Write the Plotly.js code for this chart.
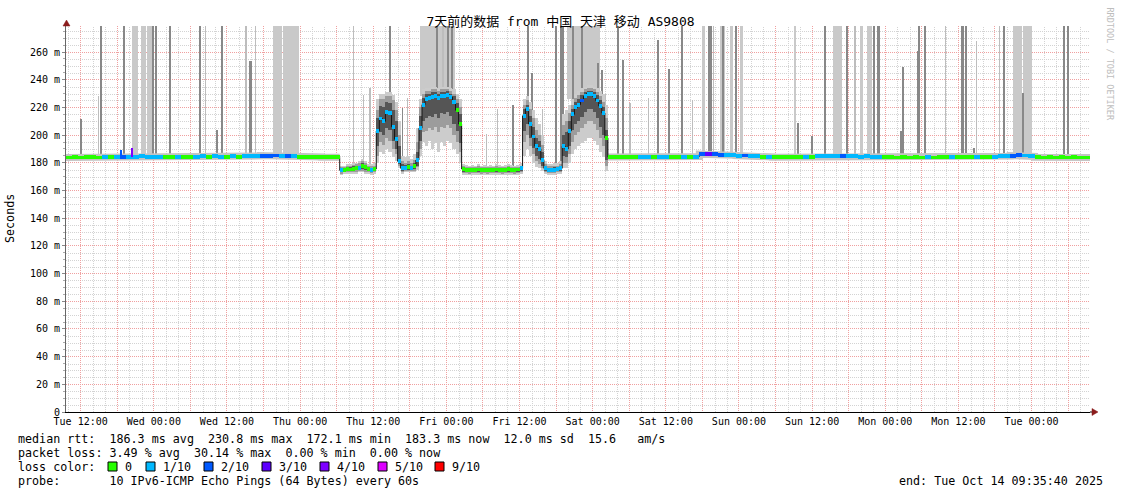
<!DOCTYPE html>
<html>
<head>
<meta charset="utf-8">
<script src="https://cdn.plot.ly/plotly-3.0.1.min.js"></script>
<style>html,body{margin:0;padding:0;background:#fff;overflow:hidden}#chart{width:1121px;height:494px}</style>
</head>
<body>
<div id="chart"></div>
<script>
// ---------------- data (time = hours since Tue 2025-10-07 00:00) ----------------
const viewStart = 9.5944;   // Tue Oct 7 09:35:40
const viewEnd = 177.5944;   // Tue Oct 14 09:35:40
const xTickHours = [12,24,36,48,60,72,84,96,108,120,132,144,156,168];
const xTickLabels = ['Tue 12:00','Wed 00:00','Wed 12:00','Thu 00:00','Thu 12:00','Fri 00:00','Fri 12:00','Sat 00:00','Sat 12:00','Sun 00:00','Sun 12:00','Mon 00:00','Mon 12:00','Tue 00:00'];
const yTickValues = [0,20,40,60,80,100,120,140,160,180,200,220,240,260];
const yTickLabels = ['0','20 m','40 m','60 m','80 m','100 m','120 m','140 m','160 m','180 m','200 m','220 m','240 m','260 m'];

const lossLevels = [0,1,2,3,4,5,9];
const lossLabels = ['0','1/10','2/10','3/10','4/10','5/10','9/10'];
const lossColors = ['#26ff00','#00b8ff','#0059ff','#5e00ff','#7e00ff','#dd00ff','#ff0000'];

// Section A: hourly medians (ms), h = 10 .. 54
const startA = 10, stepA = 1;
const medA = [183.8,184,183.8,184,184,183.8,184,184,184.2,184.3,
              184.3,184.5,184.6,184.5,184.4,184.5,184.3,184.2,184.4,184.2,
              184.2,184.5,184.6,184.4,184.6,184.5,184.4,184.6,184.5,184.8,
              184.8,185.0,185.2,185.2,185.3,185.2,185.0,184.6,184.3,184.2,
              184.1,184.2,184.0,184.1,184.0];
const lossA = [0,0,0,0,0,0,1,0,1,2,
               1,1,1,1,1,1,0,0,1,0,
               0,1,1,0,1,1,0,1,0,1,
               1,1,2,2,2,1,2,1,0,0,
               0,0,0,0,0];

// Section B: half-hourly medians, h = 54.75 .. 98.25
const startB = 54.75, stepB = 0.5;
const medB = [174.5,175,175.5,175.2,175.6,176,176.5,177.5,176.8,175.6,175,175.5,
              203,212,210,217,216,206,197,181,
              176,176.5,177,176,177.5,182,
              205,222,226,227,227.5,228,227,228.5,228,229,227.5,224,218,208,
              175.5,175,174.5,175,174.8,175.2,174.6,175,174.5,175,174.8,175.2,175,174.7,175,175.3,175,174.8,175.2,176,
              214,219,208,199,192,190,182,
              176,175,174.5,175,175.5,176,
              192,190,203,215,220,222,225,228,230,229.5,228,225,221,216,198];
const lossB = [1,0,0,0,0,0,1,0,0,0,1,0,
               1,1,1,1,1,1,1,1,
               1,1,0,1,0,1,
               1,1,1,1,1,1,1,1,1,1,1,1,0,0,
               0,0,0,0,0,0,0,0,0,0,0,0,0,0,0,0,0,0,0,1,
               1,1,1,1,1,1,1,
               1,1,1,1,1,1,
               1,1,1,1,1,1,2,1,1,1,1,1,1,1,0];
// smoke (ping spread) for section B: outer / middle / inner bands
const outerLoB = [171,172,172,172,172,172,173,173,172,172,171,172,
                  180,188,186,190,188,184,181,176,
                  172,173,173,173,173,175,
                  185,195,192,196,190,194,188,195,192,196,194,190,186,180,
                  171,171.5,171,171.5,171,171.5,171,171.5,171,171.5,171,171.5,171,171,171.5,171.5,171,171,171.5,172,
                  185,190,185,180,177,176,174,
                  172,171.5,171,171.5,172,172,
                  176,176,180,186,190,192,194,196,198,198,196,193,188,184,174];
const outerHiB = [178,178,179,179,180,180,181,183,181,179,179,180,
                  226,230,230,231,231,229,224,210,
                  185,184,185,183,186,205,
                  226,233,234,234,235,235,234,235,235,235,234,233,230,226,
                  179,178.5,178,178.5,178,179,178,178.5,178,178.5,178,179,178.5,178,178.5,179,178.5,178,178.5,180,
                  226,228,224,218,212,208,200,
                  181,179,179,180,180,181,
                  215,218,222,226,230,232,234,235,236,236,235,234,232,230,222];
const midLoB = [172,173,173,173,173,173.5,174,174,173.5,173,172.5,173,
                185,195,193,198,196,190,186,178,
                173,174,174,174,174,177,
                190,202,203,205,204,206,202,206,205,207,205,200,195,188,
                172.5,172.5,172,172.5,172.5,172.5,172,172.5,172,172.5,172.5,172.5,172.5,172,172.5,172.5,172.5,172,172.5,173,
                195,200,192,186,181,179,176,
                173,172.5,172.5,172.5,173,173,
                180,180,186,195,200,202,205,208,210,210,208,204,198,192,178];
const midHiB = [177,177,178,178,178.5,179,180,181,179.5,178,177.5,178,
                218,226,226,228,228,225,218,200,
                181,180,181,180,182,195,
                220,230,232,232,233,233,232,233,233,233,232,230,226,220,
                177.5,177,177,177,177,177.5,177,177,177,177,177,177.5,177,177,177,177.5,177,177,177,178,
                222,225,219,212,204,200,193,
                179,177.5,177.5,178,178,179,
                207,210,216,222,227,229,231,233,234,234,233,231,228,224,212];
const innerLoB = [173,174,174,174,174,174.5,175,175.5,174.5,174,173.5,174,
                  192,202,200,205,204,196,190,179,
                  174,175,175,175,175.5,178,
                  196,210,212,214,213,215,212,216,215,217,214,208,203,194,
                  173.5,173.5,173,173.5,173.5,173.5,173,173.5,173,173.5,173.5,173.5,173.5,173,173.5,173.5,173.5,173,173.5,174,
                  203,208,198,191,185,183,178,
                  174,173.5,173.5,173.5,174,174,
                  185,184,192,204,208,210,213,217,219,219,217,212,206,200,182];
const innerHiB = [176,176.5,177,177,177.5,177.5,178,179.5,178.5,177,176.5,177,
                  212,221,220,224,223,218,210,192,
                  179,178.5,179,178,180,188,
                  214,227,230,230,231,231,230,231,231,232,230,228,223,215,
                  176.5,176,176,176,176,176.5,176,176,176,176,176,176.5,176,176,176,176.5,176,176,176,177,
                  219,222,214,206,198,196,188,
                  177.5,176.5,176.5,177,177,177.5,
                  200,202,210,219,224,226,229,231,232,232,231,229,225,220,204];

// Section C: hourly medians, h = 99 .. 178
const startC = 99, stepC = 1;
const medC = [184.2,184,184.2,184,184.1,184.3,184.4,184.2,184.5,184.4,
              184.2,184.1,184.3,184.2,184.5,186.2,186.5,186.3,185.8,185.5,
              185.4,185.2,185.3,185.0,184.8,184.3,184.2,184,184.1,184,
              184.2,184.1,184.4,184.2,184.6,184.8,184.9,184.7,184.8,184.6,
              184.8,184.5,184.6,184.4,184.5,184.3,184,183.8,183.9,183.8,
              184,183.8,184,183.8,183.9,184,184.2,184,183.9,184,
              184.1,183.9,184,184.3,184.6,184.8,185.2,185.5,185.3,184.6,
              184,183.8,183.9,183.8,183.9,183.8,183.9,183.8,183.8,183.8];
const lossC = [0,0,0,0,0,1,1,0,1,1,
               0,0,1,0,1,2,3,2,2,1,
               1,1,2,1,1,0,1,0,0,0,
               0,0,1,0,1,1,1,1,2,1,
               1,1,1,1,1,0,0,0,0,0,
               0,0,1,0,0,0,1,0,0,0,
               1,0,0,1,1,1,2,2,1,1,
               0,0,0,0,0,0,0,0,0,0];

// short loss blips
const blipH = [18.6, 20.4];
const blipTop = [189.5, 190.5];
const blipLoss = [2, 4];

// single high pings (spikes) and runs of high pings
const lightSpikeH = [14.89,32.45,39.01,39.24,40.65,56.73,58.37,59.47,65.62,71.45,74.1,78.62,80.36,87.8,98.03,102.13,105.13,112.35,115.8,139.04,153.93,159.01,162.72];
const lightSpikeTop = [228,280,280,280,280,280,229,234,227,280,213,201,219,219,230,223,227,225,280,280,280,268,280];
const darkSpikeH = [12.01,15.34,19.11,23.92,24.31,26.66,31.5,31.65,34.3,35.14,39.7,39.9,62.75,64.8,70.41,72.27,72.87,82.98,85.34,86.0,89.99,90.86,91.19,92.83,94.26,96.88,97.48,100.21,101.03,106.77,108.58,110.6,115.1,115.4,117.34,119.45,129.74,131.94,134.12,137.68,142.2,142.75,143.0,146.54,146.97,149.4,149.59,150.5,156.5,156.7,157.26,158.62,163.5,166.66,173.34,174.04];
const darkSpikeTop = [211.6,280,280,280,280,280,280,280,203.6,280,253.7,253.7,280,219.5,280,280,280,222,280,245,280,280,280,280,280,252,247,280,254,268.7,248,280,280,280,280,280,208.7,199,280,280,280,280,280,203,249,261,280,280,280,280,280,190.6,280,230.6,280,280];
const lightBlockStart = [20.42,21.9,22.93,43.61,45.25,67.67,91.74,113.89,116.9,118.53,120.18,129.09,135.48,139.86,140.96,165.02,166.66];
const lightBlockEnd = [21.46,22.72,23.66,44.98,47.82,73.41,97.21,114.45,117.72,119.08,120.72,129.37,136.86,140.31,141.78,166.4,168.04];

const titleText = '7天前的数据 from 中国 天津 移动 AS9808';
const statLines = [
  'median rtt:  186.3 ms avg  230.8 ms max  172.1 ms min  183.3 ms now  12.0 ms sd  15.6   am/s',
  'packet loss: 3.49 % avg  30.14 % max  0.00 % min  0.00 % now',
  'loss color:',
  'probe:       10 IPv6-ICMP Echo Pings (64 Bytes) every 60s'
];
const endText = 'end: Tue Oct 14 09:35:40 2025';
const watermark = 'RRDTOOL / TOBI OETIKER';

// ---------------- build ----------------
const lossColor = l => lossColors[lossLevels.indexOf(l)];
function makeBins(start, step, med, loss) {
  return med.map((v, i) => {
    const c = start + i * step;
    return {c: c, s: c - step / 2, e: c + step / 2, w: step, v: v, l: loss[i]};
  });
}
const binsA = makeBins(startA, stepA, medA, lossA);
const binsB = makeBins(startB, stepB, medB, lossB);
const binsC = makeBins(startC, stepC, medC, lossC);
const allBins = binsA.concat(binsB, binsC);
function medianAt(h) {
  for (const b of allBins) if (h >= b.s && h < b.e) return b.v;
  return allBins[allBins.length - 1].v;
}
function stepLine(bins) {
  const x = [], y = [];
  bins.forEach(b => { x.push(b.s, b.e); y.push(b.v, b.v); });
  return {x, y};
}

const noHover = {hoverinfo: 'skip', showlegend: false};
const traces = [];
// light runs of high pings
traces.push(Object.assign({
  type: 'bar',
  x: lightBlockStart.map((s, i) => (s + lightBlockEnd[i]) / 2),
  width: lightBlockStart.map((s, i) => lightBlockEnd[i] - s),
  base: lightBlockStart.map((s, i) => medianAt((s + lightBlockEnd[i]) / 2) + 1),
  y: lightBlockStart.map((s, i) => 280 - medianAt((s + lightBlockEnd[i]) / 2) - 1),
  marker: {color: '#c9c9c9', line: {width: 0}}
}, noHover));
traces.push(Object.assign({
  type: 'bar', x: lightSpikeH, width: lightSpikeH.map(() => 0.24),
  base: lightSpikeH.map(h => medianAt(h) + 1),
  y: lightSpikeH.map((h, i) => lightSpikeTop[i] - medianAt(h) - 1),
  marker: {color: '#bdbdbd', line: {width: 0}}
}, noHover));
traces.push(Object.assign({
  type: 'bar', x: darkSpikeH, width: darkSpikeH.map(() => 0.3),
  base: darkSpikeH.map(h => medianAt(h) + 1),
  y: darkSpikeH.map((h, i) => darkSpikeTop[i] - medianAt(h) - 1),
  marker: {color: '#888888', line: {width: 0}}
}, noHover));
// smoke bands for the busy part
[[outerLoB, outerHiB, '#cccccc'], [midLoB, midHiB, '#9c9c9c'], [innerLoB, innerHiB, '#555555']].forEach(([lo, hi, col]) => {
  traces.push(Object.assign({
    type: 'bar', x: binsB.map(b => b.c), width: binsB.map(b => b.w),
    base: lo, y: lo.map((v, i) => hi[i] - v),
    marker: {color: col, line: {width: 0}}
  }, noHover));
});
// thin smoke halo on the flat parts
[binsA, binsC].forEach(bins => {
  const sl = stepLine(bins);
  traces.push(Object.assign({type: 'scatter', mode: 'lines', x: sl.x, y: sl.y,
    line: {color: '#c4c4c4', width: 7}}, noHover));
});
// median line
const ml = stepLine(allBins);
traces.push(Object.assign({type: 'scatter', mode: 'lines', x: ml.x, y: ml.y,
  line: {color: '#151515', width: 1}}, noHover));
// median coloured by loss (on an overlaid subplot so it sits on top)
traces.push(Object.assign({
  type: 'bar', xaxis: 'x2', yaxis: 'y2',
  x: allBins.map(b => b.c), width: allBins.map(b => b.w),
  base: allBins.map(b => b.v - 1.4), y: allBins.map(() => 2.8),
  marker: {color: allBins.map(b => lossColor(b.l)), line: {width: 0}}
}, noHover));
traces.push(Object.assign({
  type: 'bar', xaxis: 'x2', yaxis: 'y2', x: blipH, width: blipH.map(() => 0.3),
  base: blipH.map(h => medianAt(h)), y: blipH.map((h, i) => blipTop[i] - medianAt(h)),
  marker: {color: blipLoss.map(lossColor), line: {width: 0}}
}, noHover));

// ---------------- layout helpers ----------------
const W = 1121, H = 494, ML = 66, MR = 31, MT = 26, MB = 82;
const PW = W - ML - MR, PH = H - MT - MB;
const yTop = 278.8;
const xp = px => (px - ML) / PW;
const yp = py => (H - MB - py) / PH;
const mono = 'DejaVu Sans Mono, Noto Sans CJK SC, monospace';
const nb = s => s.replace(/ /g, '\u00a0');

const gridTickVals = [], gridTickText = [];
for (let h = 12; h <= 174; h += 6) {
  gridTickVals.push(h);
  const k = xTickHours.indexOf(h);
  gridTickText.push(k >= 0 ? xTickLabels[k] : '');
}

const shapes = [];
// minor grid (dotted grey) – 2 h and 5 m
for (let h = 10; h <= 176; h += 2) {
  if (h % 6 === 0) continue;
  const px = Math.round(ML + (h - viewStart) / (viewEnd - viewStart) * PW) + 0.5;
  shapes.push({type: 'line', xref: 'paper', yref: 'paper', layer: 'below', x0: xp(px), x1: xp(px), y0: 0, y1: 1,
    line: {color: '#d3d3d3', width: 1, dash: '1px,1px'}});
}
for (let v = 5; v < yTop; v += 5) {
  if (v % 20 === 0) continue;
  const py = Math.round(H - MB - v / yTop * PH) + 0.5;
  shapes.push({type: 'line', xref: 'paper', yref: 'paper', layer: 'below', x0: 0, x1: 1, y0: yp(py), y1: yp(py),
    line: {color: '#d3d3d3', width: 1, dash: '1px,1px'}});
}

const lineY = [438.5, 452.5, 466.5, 480.5];
const annotations = [];
statLines.forEach((t, i) => annotations.push({
  text: nb(t), xref: 'paper', yref: 'paper', x: xp(16), y: yp(lineY[i]),
  xanchor: 'left', yanchor: 'middle', showarrow: false,
  font: {family: mono, size: 11.7, color: '#000'}
}));
const boxX = [108, 146, 204, 262, 320, 378, 435];
lossLabels.forEach((lab, i) => {
  shapes.push({type: 'rect', xref: 'paper', yref: 'paper',
    x0: xp(boxX[i]), x1: xp(boxX[i] + 9), y0: yp(lineY[2] + 4.5), y1: yp(lineY[2] - 4.5),
    fillcolor: lossColors[i], line: {color: '#000', width: 1}});
  annotations.push({text: lab, xref: 'paper', yref: 'paper', x: xp(boxX[i] + 15), y: yp(lineY[2]),
    xanchor: 'left', yanchor: 'middle', showarrow: false, font: {family: mono, size: 11.7, color: '#000'}});
});
annotations.push({text: nb(endText), xref: 'paper', yref: 'paper', x: xp(1105), y: yp(lineY[3]),
  xanchor: 'right', yanchor: 'middle', showarrow: false, font: {family: mono, size: 11.7, color: '#000'}});
annotations.push({text: 'Seconds', xref: 'paper', yref: 'paper', x: xp(10), y: yp(219), textangle: -90,
  xanchor: 'center', yanchor: 'middle', showarrow: false, font: {family: mono, size: 11.7, color: '#000'}});
annotations.push({text: nb(watermark), xref: 'paper', yref: 'paper', x: xp(1110), y: yp(5),
  textangle: 90, xanchor: 'center', yanchor: 'top', showarrow: false,
  font: {family: mono, size: 8.5, color: '#bdbdbd'}});

// axis arrows
shapes.push({type: 'path', xref: 'paper', yref: 'paper', layer: 'above',
  path: `M ${xp(66.5)},${yp(20)} L ${xp(63)},${yp(26)} L ${xp(70)},${yp(26)} Z`,
  fillcolor: '#8b1c1c', line: {color: '#8b1c1c', width: 0.5}});
shapes.push({type: 'line', xref: 'paper', yref: 'paper', x0: 1, x1: xp(1092), y0: 0, y1: 0,
  line: {color: '#000', width: 1}});
shapes.push({type: 'path', xref: 'paper', yref: 'paper', layer: 'above',
  path: `M ${xp(1098)},${yp(412)} L ${xp(1092)},${yp(408.5)} L ${xp(1092)},${yp(415.5)} Z`,
  fillcolor: '#8b1c1c', line: {color: '#8b1c1c', width: 0.5}});

const layout = {
  width: W, height: H,
  margin: {l: ML, r: MR, t: MT, b: MB, pad: 0},
  paper_bgcolor: '#ffffff', plot_bgcolor: '#ffffff',
  showlegend: false, barmode: 'overlay', bargap: 0,
  title: {text: titleText, x: 0.5, xref: 'container', xanchor: 'center',
          y: 1 - 21 / H, yref: 'container', yanchor: 'middle',
          font: {family: mono, size: 13, color: '#000'}},
  xaxis: {
    range: [viewStart, viewEnd], tickmode: 'array', tickvals: gridTickVals, ticktext: gridTickText,
    showgrid: true, gridcolor: '#f0a0a0', griddash: '1px,1px', gridwidth: 1,
    zeroline: false, showline: true, linecolor: '#000', linewidth: 1, ticks: '',
    tickfont: {family: mono, size: 10, color: '#000'}, fixedrange: true
  },
  yaxis: {
    range: [0, yTop], tickmode: 'array', tickvals: yTickValues, ticktext: yTickLabels,
    showgrid: true, gridcolor: '#f0a0a0', griddash: '1px,1px', gridwidth: 1,
    minor: {tickmode: 'linear', tick0: 0, dtick: 5, showgrid: false, ticks: 'outside', ticklen: 2, tickcolor: '#aaaaaa'},
    zeroline: false, showline: true, linecolor: '#666', linewidth: 1,
    ticks: 'outside', ticklen: 3, tickcolor: '#888',
    tickfont: {family: mono, size: 10, color: '#000'}, fixedrange: true
  },
  xaxis2: {overlaying: 'x', range: [viewStart, viewEnd], visible: false, fixedrange: true},
  yaxis2: {overlaying: 'y', range: [0, yTop], visible: false, fixedrange: true},
  annotations: annotations,
  shapes: shapes
};

Plotly.newPlot('chart', traces, layout, {displayModeBar: false, staticPlot: true});
</script>
</body>
</html>
